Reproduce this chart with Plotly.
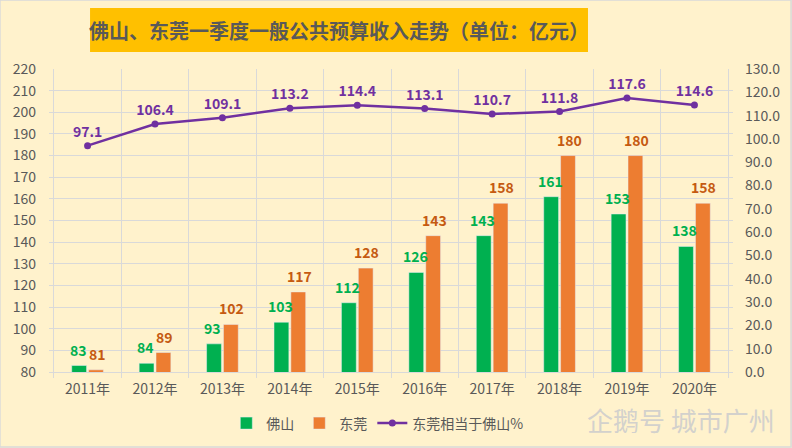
import plotly.graph_objects as go

years = ["2011年", "2012年", "2013年", "2014年", "2015年", "2016年", "2017年", "2018年", "2019年", "2020年"]
foshan = [83, 84, 93, 103, 112, 126, 143, 161, 153, 138]
dongguan = [81, 89, 102, 117, 128, 143, 158, 180, 180, 158]
ratio = [97.1, 106.4, 109.1, 113.2, 114.4, 113.1, 110.7, 111.8, 117.6, 114.6]

FONT = "Noto Sans CJK SC"
BG = "#FFF2CC"

fig = go.Figure()
fig.add_trace(go.Bar(
    x=years, y=foshan, name="佛山", marker_color="#00B050",
))
fig.add_trace(go.Bar(
    x=years, y=dongguan, name="东莞", marker_color="#ED7D31",
))
fig.add_trace(go.Scatter(
    x=years, y=ratio, name="东莞相当于佛山%", yaxis="y2",
    mode="lines+markers+text",
    line=dict(color="#7030A0", width=2.5),
    marker=dict(color="#7030A0", size=7),
    text=[f"{v:.1f}" for v in ratio], textposition="top center",
    textfont=dict(family=FONT, size=14, color="#7030A0", weight="bold"),
    cliponaxis=False,
))

# bar value labels, placed with the axes' own coordinates
for yr, v in zip(years, foshan):
    fig.add_annotation(x=yr, y=v, xref="x", yref="y", text=str(v), showarrow=False,
                       xanchor="center", yanchor="bottom", xshift=-9.5, yshift=4,
                       font=dict(family=FONT, size=14, color="#00B050", weight="bold"))
for yr, v in zip(years, dongguan):
    fig.add_annotation(x=yr, y=v, xref="x", yref="y", text=str(v), showarrow=False,
                       xanchor="center", yanchor="bottom", xshift=9.5, yshift=4,
                       font=dict(family=FONT, size=14, color="#C55A11", weight="bold"))

fig.update_layout(
    width=792, height=448,
    paper_bgcolor=BG, plot_bgcolor=BG,
    margin=dict(l=49, r=59, t=69, b=76, autoexpand=False),
    barmode="group", bargap=0.5, bargroupgap=0.12,
    font=dict(family=FONT, color="#595959", size=14),
    xaxis=dict(
        type="category", tickson="boundaries", showgrid=True, gridcolor="#D9D9D9",
        ticks="outside", ticklen=5, tickcolor="#D9D9D9",
        showline=True, linecolor="#D9D9D9", automargin=False, ticklabelstandoff=4,
        tickfont=dict(family=FONT, size=14, color="#595959"),
    ),
    yaxis=dict(
        range=[80, 220], dtick=10, showgrid=True, gridcolor="#D9D9D9",
        zeroline=False, showline=False, automargin=False, ticklabelstandoff=12,
        tickfont=dict(family=FONT, size=14, color="#595959"),
    ),
    yaxis2=dict(
        range=[0, 130], dtick=10, overlaying="y", side="right",
        showgrid=False, zeroline=False, tickformat=".1f", automargin=False,
        ticklabelstandoff=11,
        tickfont=dict(family=FONT, size=14, color="#595959"),
    ),
    legend=dict(
        orientation="h", x=0.48, xanchor="center", y=-0.17, yanchor="middle",
        font=dict(family=FONT, size=14, color="#595959"), bgcolor="rgba(0,0,0,0)",
    ),
    showlegend=True,
)

fig.add_shape(type="rect", xref="paper", yref="paper",
              x0=0.06, x1=0.788, y0=1.056, y1=1.201,
              fillcolor="#FFC000", line=dict(width=0), layer="above")
fig.add_shape(type="rect", xref="paper", yref="paper",
              x0=-49 / 683, x1=1 + 58 / 683, y0=-75 / 303, y1=1 + 69 / 303,
              fillcolor="rgba(0,0,0,0)", line=dict(width=1.5, color="#D9D9D9"), layer="above")
fig.add_annotation(
    text="佛山、东莞一季度一般公共预算收入走势（单位：亿元）",
    xref="paper", yref="paper", x=0.424, y=1.1285, xanchor="center", yanchor="middle",
    showarrow=False, font=dict(family=FONT, size=20, color="#595959", weight="bold"),
)
fig.add_annotation(
    text="企鹅号 城市广州", xref="paper", yref="paper",
    x=1.064, y=-0.158, xanchor="right", yanchor="middle", showarrow=False,
    font=dict(family=FONT, size=26, color="rgba(205,205,205,0.9)"),
)

fig.write_html("out.html", config={"displayModeBar": False},
               post_script="document.body.style.margin='0';")
